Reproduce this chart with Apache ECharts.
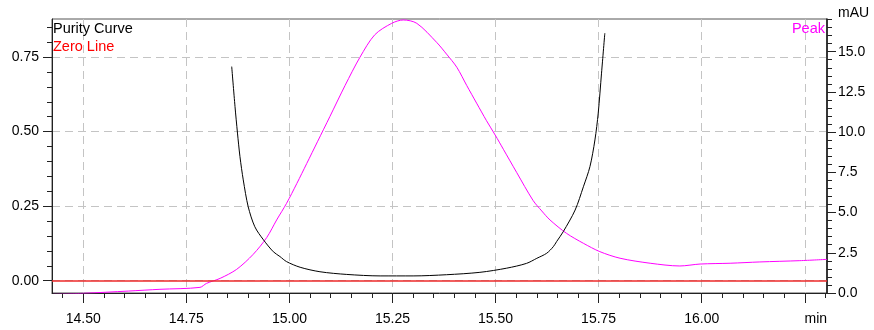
<!DOCTYPE html>
<html>
<head>
<meta charset="utf-8">
<script src="https://cdn.jsdelivr.net/npm/echarts@6/dist/echarts.min.js"></script>
<style>
  html, body { margin: 0; padding: 0; background: #fff; }
  #chart { width: 874px; height: 330px; }
</style>
</head>
<body>
<div id="chart"></div>
<script>
// purity curve (left axis)
const purityTime = [14.860, 14.868, 14.874, 14.880, 14.888, 14.900, 14.916, 14.937, 14.961, 14.977,
  14.993, 15.026, 15.074, 15.139, 15.220, 15.300, 15.381, 15.462, 15.527, 15.575,
  15.600, 15.624, 15.640, 15.648, 15.664, 15.693, 15.713, 15.729, 15.741, 15.749, 15.757, 15.765];
const purityValue = [0.718, 0.584, 0.495, 0.416, 0.338, 0.248, 0.181, 0.137, 0.097, 0.081,
  0.064, 0.045, 0.030, 0.021, 0.016, 0.016, 0.020, 0.028, 0.042, 0.058,
  0.075, 0.092, 0.114, 0.131, 0.164, 0.237, 0.315, 0.383, 0.472, 0.562, 0.696, 0.830];

// peak signal in mAU (right axis)
const peakTime = [14.427, 14.500, 14.609, 14.686, 14.783, 14.799, 14.832, 14.872, 14.912, 14.945,
  14.969, 14.993, 15.018, 15.042, 15.068, 15.098, 15.135, 15.171, 15.207, 15.248,
  15.276, 15.309, 15.357, 15.381, 15.406, 15.430, 15.454, 15.478, 15.499, 15.519,
  15.551, 15.591, 15.612, 15.632, 15.672, 15.713, 15.753, 15.802, 15.875, 15.947,
  15.996, 16.069, 16.141, 16.238, 16.304];
const peakValue = [-0.08, -0.02, 0.12, 0.23, 0.35, 0.60, 0.91, 1.47, 2.40, 3.45,
  4.54, 5.57, 6.81, 8.05, 9.40, 10.96, 12.90, 14.65, 16.05, 16.76,
  16.97, 16.76, 15.58, 14.85, 14.03, 12.90, 11.80, 10.71, 9.82, 8.93,
  7.50, 5.75, 5.10, 4.54, 3.71, 3.09, 2.57, 2.16, 1.85, 1.68,
  1.80, 1.85, 1.93, 2.01, 2.09];

// axis ticks
const xMajorTicks = [14.5, 14.75, 15, 15.25, 15.5, 15.75, 16, 16.25];
const xMinorTicks = [14.45, 14.55, 14.6, 14.65, 14.7, 14.8, 14.85, 14.9, 14.95, 15.05, 15.1, 15.15, 15.2,
  15.3, 15.35, 15.4, 15.45, 15.55, 15.6, 15.65, 15.7, 15.8, 15.85, 15.9, 15.95, 16.05, 16.1, 16.15, 16.2, 16.3];
const leftMajorTicks = [0, 0.25, 0.5, 0.75];
const leftMinorTicks = [0.05, 0.1, 0.15, 0.2, 0.3, 0.35, 0.4, 0.45, 0.55, 0.6, 0.65, 0.7, 0.8, 0.85];
const rightMajorTicks = [0, 2.5, 5, 7.5, 10, 12.5, 15];
const rightMinorTicks = [0.5, 1, 1.5, 2, 3, 3.5, 4, 4.5, 5.5, 6, 6.5, 7, 8, 8.5, 9, 9.5,
  10.5, 11, 11.5, 12, 13, 13.5, 14, 14.5, 15.5, 16, 16.5, 17];

const FONT = "'Liberation Sans', Arial, sans-serif";
const X_MIN = 14.4241, X_MAX = 16.3039;
const L_MIN = -0.0413, L_MAX = 0.8776;
const R_MIN = 0, R_MAX = 17.03;

const zip = (a, b) => a.map((v, i) => [v, b[i]]);

const gridDash = { color: '#c4c4c4', width: 1, type: [8, 5] };

const chart = echarts.init(document.getElementById('chart'));

chart.setOption({
  animation: false,
  backgroundColor: '#fff',
  textStyle: { fontFamily: FONT },
  title: [
    { text: 'Purity Curve', left: 53, top: 21, padding: 0,
      textStyle: { color: '#000', fontSize: 14.5, fontWeight: 'normal', fontFamily: FONT } },
    { text: 'Zero Line', left: 53, top: 39, padding: 0,
      textStyle: { color: '#ff0000', fontSize: 14.5, fontWeight: 'normal', fontFamily: FONT } },
    { text: 'Peak', right: 49, top: 21, padding: 0,
      textStyle: { color: '#ff00ff', fontSize: 14.5, fontWeight: 'normal', fontFamily: FONT } }
  ],
  grid: {
    left: 52, right: 47, top: 19, bottom: 37,
    outerBoundsMode: 'none',
    show: true, borderColor: '#555', borderWidth: 1
  },
  xAxis: [
    {
      type: 'value', min: X_MIN, max: X_MAX, position: 'bottom',
      axisLine: { onZero: false, lineStyle: { color: '#222', width: 1 } },
      axisTick: { customValues: xMajorTicks, length: 10, lineStyle: { color: '#222' } },
      axisLabel: {
        customValues: xMajorTicks, margin: 19, color: '#000', fontSize: 14, fontFamily: FONT,
        formatter: v => (Math.abs(v - 16.25) < 1e-6 ? '{m|min}' : v.toFixed(2)),
        rich: { m: { fontSize: 14, fontFamily: FONT, color: '#000', padding: [0, 0, 0, 22] } }
      },
      splitLine: { show: true, lineStyle: gridDash }
    },
    {
      // minor ticks only
      type: 'value', min: X_MIN, max: X_MAX, position: 'bottom',
      axisLine: { show: false, onZero: false },
      axisTick: { customValues: xMinorTicks, length: 5, lineStyle: { color: '#222' } },
      axisLabel: { show: false },
      splitLine: { show: false }
    }
  ],
  yAxis: [
    {
      type: 'value', min: L_MIN, max: L_MAX, position: 'left',
      axisLine: { show: true, onZero: false, lineStyle: { color: '#222', width: 1 } },
      axisTick: { customValues: leftMajorTicks, length: 9, lineStyle: { color: '#222' } },
      axisLabel: { customValues: leftMajorTicks, margin: 13, color: '#000', fontSize: 14, fontFamily: FONT,
        formatter: v => v.toFixed(2) },
      splitLine: { show: true, lineStyle: gridDash }
    },
    {
      type: 'value', min: L_MIN, max: L_MAX, position: 'left',
      axisLine: { show: false, onZero: false },
      axisTick: { customValues: leftMinorTicks, length: 5, lineStyle: { color: '#222' } },
      axisLabel: { show: false },
      splitLine: { show: false }
    },
    {
      type: 'value', min: R_MIN, max: R_MAX, position: 'right',
      name: 'mAU', nameLocation: 'end', nameGap: -1,
      nameTextStyle: { color: '#000', fontSize: 14, fontFamily: FONT, align: 'left', verticalAlign: 'bottom', padding: [0, 0, 0, 11] },
      axisLine: { show: true, onZero: false, lineStyle: { color: '#111', width: 1.5 } },
      axisTick: { customValues: rightMajorTicks, length: 9, lineStyle: { color: '#222' } },
      axisLabel: { customValues: rightMajorTicks, margin: 11, color: '#000', fontSize: 14, fontFamily: FONT,
        formatter: v => v.toFixed(1) },
      splitLine: { show: false }
    },
    {
      type: 'value', min: R_MIN, max: R_MAX, position: 'right',
      axisLine: { show: false, onZero: false },
      axisTick: { customValues: rightMinorTicks, length: 5, lineStyle: { color: '#222' } },
      axisLabel: { show: false },
      splitLine: { show: false }
    }
  ],
  series: [
    {
      name: 'Peak', type: 'line', xAxisIndex: 0, yAxisIndex: 2,
      data: zip(peakTime, peakValue),
      showSymbol: false, smooth: 0.3,
      lineStyle: { color: '#ff00ff', width: 1 }, itemStyle: { color: '#ff00ff' }
    },
    {
      name: 'Purity Curve', type: 'line', xAxisIndex: 0, yAxisIndex: 0,
      data: zip(purityTime, purityValue),
      showSymbol: false, smooth: 0.3, z: 3,
      lineStyle: { color: '#000', width: 1 }, itemStyle: { color: '#000' },
      // zero line
      markLine: {
        silent: true, symbol: ['none', 'none'],
        label: { show: false },
        lineStyle: { color: '#ee2a2a', width: 1.5, type: 'solid' },
        data: [{ yAxis: 0 }]
      }
    }
  ]
});
</script>
</body>
</html>
